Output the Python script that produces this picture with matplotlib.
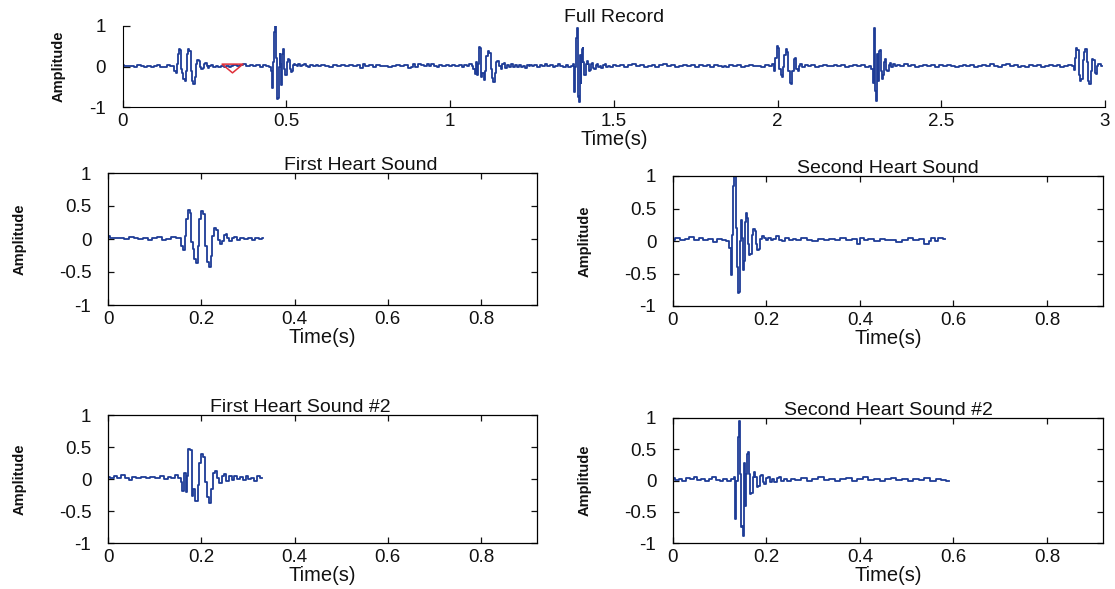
import numpy as np
import matplotlib
matplotlib.use("Agg")
import matplotlib.pyplot as plt
from matplotlib.path import Path

plt.rcParams['font.family'] = ['Liberation Sans', 'DejaVu Sans']
plt.rcParams['axes.unicode_minus'] = False

# ---------------- data ----------------
# start time of each heart-sound segment in the full record (s)
segment_starts = [0.0, 0.333, 0.915, 1.245, 1.835, 2.165, 2.75]

# S1 (first heart sound), cycle 1  -- local time (s) / amplitude
s1a_t = [0.000, 0.010, 0.020, 0.030, 0.040, 0.050, 0.060, 0.070, 0.080, 0.090, 0.100, 0.110,
         0.120, 0.130, 0.140, 0.150, 0.155, 0.160, 0.163, 0.166, 0.170, 0.173, 0.177, 0.180,
         0.183, 0.187, 0.191, 0.194, 0.198, 0.202, 0.206, 0.210, 0.214, 0.218, 0.222, 0.226,
         0.230, 0.234, 0.238, 0.242, 0.246, 0.250, 0.254, 0.258, 0.262, 0.268, 0.274, 0.280,
         0.288, 0.296, 0.304, 0.312, 0.320, 0.328, 0.333]
s1a_amp = [0.04, 0.02, 0.01, 0.02, 0.00, 0.03, 0.01, 0.00, 0.02, -0.01, 0.01, 0.03,
           -0.02, 0.00, 0.03, 0.02, 0.01, -0.10, -0.16, 0.05, 0.30, 0.44, 0.40, -0.05,
           -0.15, -0.30, -0.36, -0.10, 0.30, 0.43, 0.38, -0.10, -0.35, -0.42, -0.25, 0.05,
           0.17, 0.14, -0.02, -0.07, -0.03, 0.06, 0.08, 0.02, -0.03, 0.01, 0.03, -0.01,
           0.02, 0.00, 0.01, -0.01, 0.02, 0.00, 0.01]

# S2 (second heart sound), cycle 1
s2a_t = [0.000, 0.010, 0.020, 0.030, 0.040, 0.050, 0.060, 0.070, 0.080, 0.090, 0.100, 0.110,
         0.118, 0.122, 0.126, 0.128, 0.130, 0.133, 0.136, 0.138, 0.141, 0.143, 0.145, 0.147,
         0.149, 0.151, 0.153, 0.155, 0.157, 0.160, 0.162, 0.164, 0.167, 0.170, 0.173, 0.176,
         0.179, 0.182, 0.185, 0.188, 0.192, 0.196, 0.200, 0.206, 0.212, 0.218, 0.224, 0.230,
         0.236, 0.244, 0.252, 0.260, 0.268, 0.280, 0.292, 0.304, 0.316, 0.328, 0.340, 0.352,
         0.364, 0.376, 0.388, 0.398, 0.404, 0.412, 0.424, 0.436, 0.448, 0.460, 0.472, 0.484,
         0.496, 0.508, 0.520, 0.532, 0.544, 0.550, 0.556, 0.564, 0.572, 0.582]
s2a_amp = [0.02, 0.04, 0.01, 0.03, 0.06, 0.02, 0.04, 0.01, 0.03, -0.01, 0.03, 0.02,
           0.00, -0.10, -0.53, 0.10, 0.85, 1.00, 0.20, -0.40, -0.80, -0.78, 0.00, 0.32,
           0.05, -0.45, -0.30, 0.30, 0.43, 0.35, -0.05, -0.22, -0.20, 0.10, 0.18, 0.15,
           -0.05, -0.14, -0.12, 0.03, 0.07, 0.04, 0.02, 0.05, 0.01, 0.03, 0.07, 0.02,
           0.00, 0.04, 0.01, 0.03, 0.01, 0.04, 0.02, 0.00, 0.03, 0.01, 0.03, 0.02,
           0.04, 0.01, 0.03, -0.04, 0.05, 0.01, 0.03, 0.00, 0.03, 0.01, 0.02, -0.02,
           0.02, 0.04, 0.01, 0.03, -0.04, 0.00, 0.05, 0.00, 0.05, 0.03]

# S1, cycle 2
s1b_t = [0.000, 0.010, 0.016, 0.024, 0.032, 0.040, 0.048, 0.056, 0.066, 0.076, 0.086, 0.096,
         0.106, 0.116, 0.124, 0.132, 0.140, 0.148, 0.154, 0.158, 0.161, 0.165, 0.168, 0.171,
         0.173, 0.178, 0.181, 0.185, 0.190, 0.194, 0.198, 0.202, 0.207, 0.211, 0.215, 0.219,
         0.223, 0.227, 0.232, 0.237, 0.241, 0.246, 0.251, 0.256, 0.262, 0.268, 0.274, 0.280,
         0.286, 0.292, 0.298, 0.304, 0.310, 0.316, 0.322, 0.330]
s1b_amp = [0.03, 0.01, 0.05, 0.02, 0.06, 0.01, -0.02, 0.03, 0.01, 0.03, 0.02, 0.03,
           0.01, 0.04, 0.00, 0.03, 0.01, 0.06, 0.02, -0.05, -0.18, 0.10, -0.21, 0.05,
           0.47, 0.46, -0.26, -0.15, -0.34, -0.10, 0.25, 0.39, 0.34, -0.05, -0.28, -0.38,
           -0.15, 0.10, 0.13, 0.02, -0.06, 0.05, 0.08, -0.03, 0.04, -0.01, 0.05, 0.00,
           0.03, -0.01, 0.04, 0.00, 0.02, -0.03, 0.04, 0.02]

# S2, cycle 2
s2b_t = [0.000, 0.008, 0.016, 0.024, 0.032, 0.040, 0.048, 0.056, 0.064, 0.072, 0.080, 0.088,
         0.096, 0.104, 0.112, 0.120, 0.128, 0.132, 0.134, 0.137, 0.139, 0.141, 0.143, 0.145,
         0.147, 0.149, 0.151, 0.153, 0.155, 0.157, 0.159, 0.161, 0.163, 0.166, 0.169, 0.172,
         0.175, 0.178, 0.181, 0.184, 0.187, 0.190, 0.193, 0.197, 0.201, 0.205, 0.209, 0.214,
         0.219, 0.224, 0.229, 0.234, 0.240, 0.248, 0.256, 0.268, 0.280, 0.292, 0.304, 0.316,
         0.328, 0.340, 0.352, 0.364, 0.376, 0.388, 0.400, 0.412, 0.424, 0.436, 0.448, 0.460,
         0.472, 0.484, 0.496, 0.508, 0.520, 0.532, 0.544, 0.556, 0.568, 0.580, 0.590]
s2b_amp = [0.04, 0.01, 0.03, 0.00, 0.04, 0.02, 0.05, 0.01, 0.03, -0.01, 0.02, 0.05,
           0.01, -0.01, 0.03, 0.00, 0.02, 0.05, -0.62, 0.00, 0.65, 0.70, 0.95, 0.10,
           -0.75, -0.72, -0.88, 0.28, -0.40, 0.10, 0.42, 0.45, 0.10, -0.22, -0.20, 0.05,
           0.14, 0.06, -0.10, -0.08, 0.07, 0.09, -0.03, -0.06, 0.04, 0.06, -0.02, 0.02,
           -0.03, 0.04, 0.06, -0.01, 0.02, 0.00, 0.03, 0.01, 0.04, 0.00, 0.03, 0.05,
           0.01, 0.03, -0.01, 0.02, 0.04, 0.00, 0.03, 0.05, 0.01, 0.03, -0.01, 0.02,
           0.04, 0.01, 0.03, -0.01, 0.03, 0.01, 0.04, 0.00, 0.03, 0.01, 0.00]

# S1, cycle 3 (full record only)
s1c_t = [0.000, 0.012, 0.024, 0.036, 0.048, 0.060, 0.072, 0.084, 0.096, 0.108, 0.120, 0.132,
         0.144, 0.152, 0.156, 0.160, 0.164, 0.168, 0.172, 0.176, 0.180, 0.184, 0.188, 0.192,
         0.196, 0.200, 0.204, 0.208, 0.212, 0.216, 0.220, 0.224, 0.228, 0.232, 0.238, 0.244,
         0.252, 0.262, 0.274, 0.286, 0.298, 0.310, 0.322, 0.330]
s1c_amp = [0.02, 0.00, 0.03, 0.01, 0.03, -0.01, 0.02, 0.04, 0.01, 0.02, 0.00, 0.03,
           0.02, 0.05, -0.12, 0.20, 0.50, 0.45, -0.05, -0.22, -0.26, 0.00, 0.28, 0.42,
           0.35, -0.10, -0.40, -0.44, -0.10, 0.18, 0.20, -0.05, -0.12, 0.02, 0.06, 0.00,
           0.03, 0.01, 0.04, 0.00, 0.02, 0.03, 0.01, 0.02]

# S2, cycle 3 (full record only)
s2c_t = [0.000, 0.012, 0.024, 0.036, 0.048, 0.060, 0.072, 0.084, 0.096, 0.108, 0.118, 0.124,
         0.127, 0.129, 0.131, 0.133, 0.135, 0.137, 0.139, 0.141, 0.143, 0.146, 0.149, 0.152,
         0.155, 0.158, 0.161, 0.164, 0.168, 0.172, 0.176, 0.180, 0.185, 0.190, 0.196, 0.204,
         0.214, 0.226, 0.238, 0.250, 0.262, 0.274, 0.286, 0.298, 0.310, 0.322, 0.334, 0.346,
         0.358, 0.370, 0.382, 0.394, 0.406, 0.418, 0.430, 0.442, 0.454, 0.466, 0.478, 0.490,
         0.502, 0.514, 0.526, 0.538, 0.550, 0.562, 0.574, 0.585]
s2c_amp = [0.02, 0.04, 0.01, 0.03, 0.00, 0.02, 0.04, 0.01, 0.03, 0.00, 0.02, -0.05,
           -0.40, 0.30, 0.95, 0.20, -0.60, -0.85, -0.10, 0.30, -0.35, 0.38, 0.40, -0.10,
           -0.30, -0.20, 0.12, 0.18, -0.08, -0.12, 0.04, 0.08, 0.00, 0.05, 0.01, 0.04,
           0.02, 0.05, 0.01, 0.03, 0.00, 0.02, 0.04, 0.01, 0.03, 0.00, 0.03, 0.01,
           0.04, 0.02, -0.01, 0.02, 0.04, 0.01, 0.03, -0.02, 0.02, 0.04, 0.01, 0.05,
           0.02, -0.01, 0.03, 0.05, 0.01, 0.03, 0.00, 0.02]

# S1, cycle 4 (full record only, cut at end of record)
s1d_t = [0.000, 0.012, 0.024, 0.036, 0.048, 0.060, 0.072, 0.084, 0.096, 0.108, 0.120, 0.132,
         0.144, 0.152, 0.156, 0.160, 0.164, 0.168, 0.172, 0.176, 0.180, 0.184, 0.188, 0.192,
         0.196, 0.200, 0.204, 0.208, 0.212, 0.216, 0.220, 0.224, 0.228, 0.232, 0.236, 0.240]
s1d_amp = [0.02, 0.00, 0.03, 0.01, 0.04, 0.00, 0.02, 0.03, 0.01, 0.03, 0.00, 0.02,
           0.04, 0.01, -0.08, 0.20, 0.45, 0.40, -0.20, -0.36, -0.30, 0.15, 0.35, 0.44,
           0.10, -0.35, -0.43, -0.10, 0.18, 0.15, -0.15, -0.18, 0.02, 0.07, 0.05, 0.02]

# segmentation marker (end of first S1 segment)
marker_t = [0.333]
marker_amp = [-0.04]

x_ticks_full = [0, 0.5, 1, 1.5, 2, 2.5, 3]
x_ticklabels_full = ["0", "0.5", "1", "1.5", "2", "2.5", "3"]
y_ticks_full = [-1, 0, 1]
x_ticks_seg = [0, 0.2, 0.4, 0.6, 0.8]
x_ticklabels_seg = ["0", "0.2", "0.4", "0.6", "0.8"]
y_ticks_seg = [-1, -0.5, 0, 0.5, 1]
y_ticklabels_seg = ["-1", "-0.5", "0", "0.5", "1"]

titles = ["First Heart Sound", "Second Heart Sound", "First Heart Sound #2", "Second Heart Sound #2"]

# ---------------- build full record ----------------
seg_t = [s1a_t, s2a_t, s1b_t, s2b_t, s1c_t, s2c_t, s1d_t]
seg_amp = [s1a_amp, s2a_amp, s1b_amp, s2b_amp, s1c_amp, s2c_amp, s1d_amp]
full_t = np.concatenate([start + np.asarray(t) for start, t in zip(segment_starts, seg_t)])
full_amp = np.concatenate([np.asarray(a) for a in seg_amp])

# ---------------- figure ----------------
W, H = 1115, 589
fig = plt.figure(figsize=(W / 100, H / 100), dpi=100)
fig.patch.set_facecolor("white")

LINE = "#1e3c96"
TXT = "#111111"
FS = 13.5
TFS = 14
LFS = 14.5
YL = dict(fontsize=10.5, color=TXT, fontweight='bold')


def px_axes(x0, x1, y0, y1):
    return fig.add_axes([x0 / W, 1 - y1 / H, (x1 - x0) / W, (y1 - y0) / H])


# Full record
ax = px_axes(122.7, 1105, 26, 107)
ax.plot(full_t, full_amp, color=LINE, lw=1.3, drawstyle='steps-mid')
tri = Path([(-1, 0.42), (1, 0.42), (0, -0.42), (-1, 0.42)],
           [Path.MOVETO, Path.LINETO, Path.LINETO, Path.CLOSEPOLY])
ax.plot(marker_t, marker_amp, linestyle="none", marker=tri, markersize=15,
        markerfacecolor="none", markeredgecolor="#e0303a", markeredgewidth=1.1)
ax.set_xlim(0, 3)
ax.set_ylim(-1, 1)
ax.set_xticks(x_ticks_full)
ax.set_xticklabels(x_ticklabels_full)
ax.set_yticks(y_ticks_full)
ax.set_yticklabels([str(v) for v in y_ticks_full])
ax.spines["top"].set_visible(False)
ax.spines["right"].set_visible(False)
ax.tick_params(axis='x', direction="in", length=5, width=0.9, labelsize=FS, colors=TXT, pad=4)
ax.tick_params(axis='y', direction="in", length=5, width=0.9, labelsize=FS, colors=TXT, pad=12)
ax.set_title("Full Record", fontsize=TFS, color=TXT, pad=3)
ax.set_xlabel("Time(s)", fontsize=LFS, color=TXT, labelpad=0)
ax.set_ylabel("Amplitude", **YL)
ax.yaxis.set_label_coords(-0.058, 0.5)

# Segment panels
rects = [(108, 537, 173, 305), (673, 1103, 176, 306), (108, 537, 415, 543), (673, 1103, 418, 543)]
seg_data = [(s1a_t, s1a_amp), (s2a_t, s2a_amp), (s1b_t, s1b_amp), (s2b_t, s2b_amp)]
title_x = [0.59, 0.5, 0.448, 0.5]
for rect, (t, a), title, tx in zip(rects, seg_data, titles, title_x):
    a_ = px_axes(*rect)
    a_.plot(t, a, color=LINE, lw=1.3, drawstyle='steps-mid')
    a_.set_xlim(0, 0.92)
    a_.set_ylim(-1, 1)
    a_.set_xticks(x_ticks_seg)
    a_.set_xticklabels(x_ticklabels_seg)
    a_.set_yticks(y_ticks_seg)
    a_.set_yticklabels(y_ticklabels_seg)
    a_.tick_params(axis='x', direction="in", length=4, width=0.9, labelsize=FS, colors=TXT,
                   top=True, pad=4)
    a_.tick_params(axis='y', direction="in", length=4, width=0.9, labelsize=FS, colors=TXT,
                   right=True, pad=12)
    for s in a_.spines.values():
        s.set_linewidth(0.9)
    a_.set_title(title, fontsize=TFS, color=TXT, x=tx, pad=2)
    a_.set_xlabel("Time(s)", fontsize=LFS, color=TXT, labelpad=0)
    a_.set_ylabel("Amplitude", **YL)
    a_.yaxis.set_label_coords(-0.19, 0.5)

fig.savefig("out.png", dpi=100, facecolor="white")
